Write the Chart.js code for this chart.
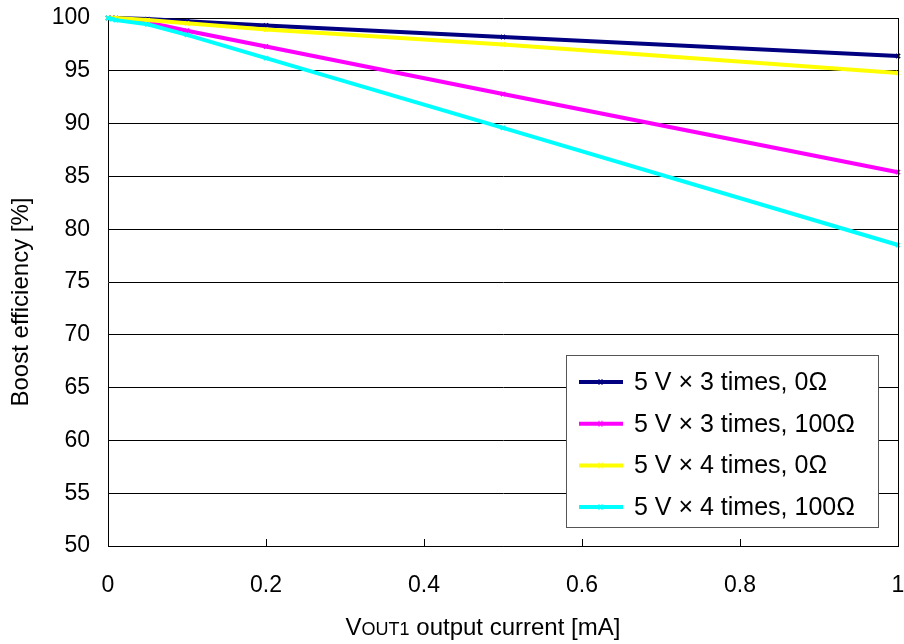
<!DOCTYPE html>
<html>
<head>
<meta charset="utf-8">
<script src="https://cdn.jsdelivr.net/npm/chart.js@4"></script>
<style>
  html, body { margin: 0; padding: 0; background: #fff; }
  #wrap { width: 904px; height: 644px; }
</style>
</head>
<body>
<div id="wrap"><canvas id="effChart" width="904" height="644"></canvas></div>
<script>
// Boost efficiency vs VOUT1 output current

const currents = [0, 0.005, 0.01, 0.05, 0.1, 0.2, 0.5, 1];

const labels = [
    '5 V \u00d7 3 times, 0\u03a9',
    '5 V \u00d7 3 times, 100\u03a9',
    '5 V \u00d7 4 times, 0\u03a9',
    '5 V \u00d7 4 times, 100\u03a9',
];

const x3NoRes  = [100, 100, 100, 99.9, 99.7, 99.3, 98.2, 96.4];
const x3Res100 = [100, 100, 99.9, 99.6, 98.8, 97.3, 92.8, 85.4];
const x4NoRes  = [100, 100, 100, 99.8, 99.5, 98.9, 97.5, 94.8];
const x4Res100 = [100, 99.9, 99.8, 99.4, 98.4, 96.2, 89.6, 78.5];

const xTicks = [0, 0.2, 0.4, 0.6, 0.8, 1];
const yTicks = [50, 55, 60, 65, 70, 75, 80, 85, 90, 95, 100];

const colors = ['#000080', '#ff00ff', '#ffff00', '#00ffff'];
const FONT = '"Liberation Sans", Arial, sans-serif';

function toPoints(values) {
    return values.map((v, i) => ({ x: currents[i], y: v }));
}

function makeSet(label, values, color, order) {
    return {
        label,
        data: toPoints(values),
        borderColor: color,
        backgroundColor: color,
        borderWidth: 4,
        pointStyle: 'crossRot',
        pointRadius: 3,
        pointBorderWidth: 1.5,
        pointBorderColor: color,
        pointHoverRadius: 3,
        tension: 0,
        fill: false,
        clip: false,
        order,
    };
}

// drop the label overflow padding so the plot area sits where layout.padding puts it
function noOverflow(s) {
    s.paddingTop = 0;
    s.paddingBottom = 0;
    s.paddingLeft = 0;
    s.paddingRight = 0;
}

// frame, inner ticks, titles and boxed legend
const decorations = {
    id: 'decorations',
    afterDatasetsDraw(chart) {
        const { ctx, chartArea: a, scales } = chart;
        ctx.save();
        ctx.strokeStyle = '#000';
        ctx.lineWidth = 1;

        // right border
        ctx.beginPath();
        ctx.moveTo(Math.round(a.right) + 0.5, a.top);
        ctx.lineTo(Math.round(a.right) + 0.5, a.bottom);
        ctx.stroke();

        // inward x ticks
        xTicks.forEach(v => {
            const px = Math.round(scales.x.getPixelForValue(v)) + 0.5;
            ctx.beginPath();
            ctx.moveTo(px, a.bottom);
            ctx.lineTo(px, a.bottom - 7);
            ctx.stroke();
        });

        // legend box
        const lx = 566, ly = 355, lw = 312, lh = 172;
        ctx.fillStyle = '#fff';
        ctx.fillRect(lx, ly, lw, lh);
        ctx.strokeStyle = '#555';
        ctx.strokeRect(lx + 0.5, ly + 0.5, lw, lh);

        ctx.font = '25px ' + FONT;
        ctx.textBaseline = 'middle';
        ctx.textAlign = 'left';
        chart.data.datasets.forEach((ds, i) => {
            const cy = 382 + i * 41.7;
            ctx.strokeStyle = ds.borderColor;
            ctx.lineWidth = 4;
            ctx.beginPath();
            ctx.moveTo(579, cy);
            ctx.lineTo(623, cy);
            ctx.stroke();
            ctx.lineWidth = 1;
            ctx.beginPath();
            ctx.moveTo(599, cy - 3); ctx.lineTo(599, cy + 3);
            ctx.moveTo(602, cy - 3); ctx.lineTo(602, cy + 3);
            ctx.stroke();
            ctx.fillStyle = '#000';
            ctx.fillText(ds.label, 634, cy + 1);
        });

        // y title
        ctx.save();
        ctx.translate(21, 302);
        ctx.rotate(-Math.PI / 2);
        ctx.textAlign = 'center';
        ctx.textBaseline = 'middle';
        ctx.font = '24px ' + FONT;
        ctx.fillStyle = '#000';
        ctx.fillText('Boost efficiency [%]', 0, 0);
        ctx.restore();

        // x title, VOUT1 in small caps
        const parts = [['V', 24], ['OUT1', 18], [' output current [mA]', 24]];
        let total = 0;
        parts.forEach(([t, s]) => { ctx.font = s + 'px ' + FONT; total += ctx.measureText(t).width; });
        let tx = 483 - total / 2;
        ctx.textAlign = 'left';
        ctx.textBaseline = 'alphabetic';
        ctx.fillStyle = '#000';
        parts.forEach(([t, s]) => {
            ctx.font = s + 'px ' + FONT;
            ctx.fillText(t, tx, 635);
            tx += ctx.measureText(t).width;
        });
        ctx.restore();
    },
};

new Chart(document.getElementById('effChart'), {
    type: 'line',
    data: {
        datasets: [
            makeSet(labels[0], x3NoRes, colors[0], 3),
            makeSet(labels[1], x3Res100, colors[1], 2),
            makeSet(labels[2], x4NoRes, colors[2], 1),
            makeSet(labels[3], x4Res100, colors[3], 0),
        ],
    },
    options: {
        responsive: false,
        animation: false,
        layout: { padding: { top: 18, right: 6, left: 0, bottom: 0 } },
        plugins: {
            legend: { display: false },
            tooltip: { enabled: false },
        },
        scales: {
            x: {
                type: 'linear',
                min: 0,
                max: 1,
                afterFit: s => { s.height = 98; noOverflow(s); },
                afterBuildTicks: s => { s.ticks = xTicks.map(v => ({ value: v })); },
                ticks: {
                    font: { family: FONT, size: 23 },
                    color: '#000',
                    padding: 26,
                    maxRotation: 0,
                    callback: v => String(v),
                },
                grid: { display: false, drawTicks: false },
                border: { display: true, color: '#000', width: 1 },
            },
            y: {
                min: 50,
                max: 100,
                afterFit: s => { s.width = 108; noOverflow(s); },
                afterBuildTicks: s => { s.ticks = yTicks.map(v => ({ value: v })); },
                ticks: {
                    font: { family: FONT, size: 23 },
                    color: '#000',
                    padding: 18,
                    callback: v => String(v),
                },
                grid: { color: '#000', lineWidth: 1, drawTicks: false },
                border: { display: true, color: '#000', width: 1 },
            },
        },
    },
    plugins: [decorations],
});
</script>
</body>
</html>
